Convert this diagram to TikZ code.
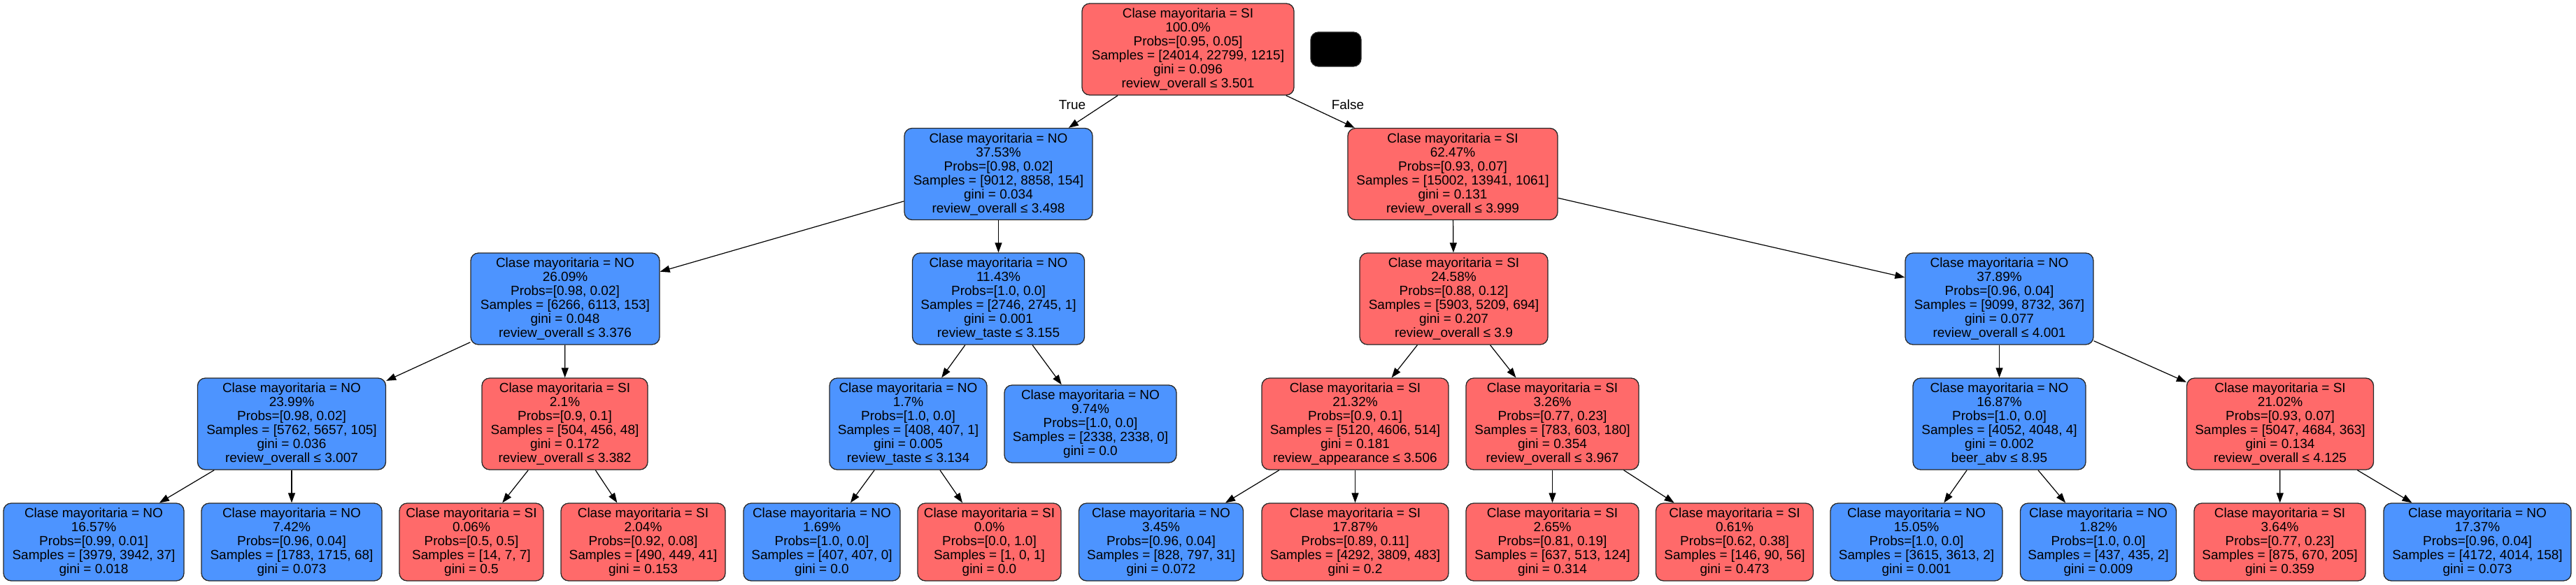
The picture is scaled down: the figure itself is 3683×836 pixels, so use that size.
\documentclass[tikz,border=0pt]{standalone}
\usepackage{fontspec}
\setmainfont{Liberation Sans}
\usetikzlibrary{arrows.meta}
\definecolor{nored}{HTML}{FF6A6A}
\definecolor{noblue}{HTML}{4D94FF}
\tikzset{
  tnode/.style={draw=black!85, line width=1.3pt, rounded corners=11pt, inner sep=0pt,
    align=center, font=\fontsize{19}{20}\selectfont, minimum height=131pt},
  leafh/.style={minimum height=111pt},
  rednode/.style={tnode, fill=nored},
  bluenode/.style={tnode, fill=noblue},
  treeedge/.style={line width=1.2pt, draw=black, -{Triangle[length=14pt,width=10pt]}},
  elabel/.style={font=\fontsize{19}{20}\selectfont, inner sep=0pt}
}
\begin{document}
\begin{tikzpicture}[x=1pt,y=1pt]
\useasboundingbox (0,0) rectangle (3683,-836);
% level 0
\node[rednode, minimum width=303pt] (root) at (1698.5,-70.5) {Clase mayoritaria = SI\\100.0\%\\Probs=[0.95, 0.05]\\Samples = [24014, 22799, 1215]\\gini = 0.096\\review\_overall ≤ 3.501};
\node[draw=black!85, line width=1.3pt, fill=black, rounded corners=11pt, minimum width=72pt, minimum height=49pt, inner sep=0pt] (legend) at (1910,-70.5) {};
% level 1
\node[bluenode, minimum width=269pt] (n1) at (1427.5,-249) {Clase mayoritaria = NO\\37.53\%\\Probs=[0.98, 0.02]\\Samples = [9012, 8858, 154]\\gini = 0.034\\review\_overall ≤ 3.498};
\node[rednode, minimum width=300pt] (n2) at (2077,-249) {Clase mayoritaria = SI\\62.47\%\\Probs=[0.93, 0.07]\\Samples = [15002, 13941, 1061]\\gini = 0.131\\review\_overall ≤ 3.999};
% level 2
\node[bluenode, minimum width=270pt] (n3) at (808,-427.5) {Clase mayoritaria = NO\\26.09\%\\Probs=[0.98, 0.02]\\Samples = [6266, 6113, 153]\\gini = 0.048\\review\_overall ≤ 3.376};
\node[bluenode, minimum width=246pt] (n4) at (1427.5,-427.5) {Clase mayoritaria = NO\\11.43\%\\Probs=[1.0, 0.0]\\Samples = [2746, 2745, 1]\\gini = 0.001\\review\_taste ≤ 3.155};
\node[rednode, minimum width=269pt] (n5) at (2078.5,-427.5) {Clase mayoritaria = SI\\24.58\%\\Probs=[0.88, 0.12]\\Samples = [5903, 5209, 694]\\gini = 0.207\\review\_overall ≤ 3.9};
\node[bluenode, minimum width=269pt] (n6) at (2858.5,-427.5) {Clase mayoritaria = NO\\37.89\%\\Probs=[0.96, 0.04]\\Samples = [9099, 8732, 367]\\gini = 0.077\\review\_overall ≤ 4.001};
% level 3
\node[bluenode, minimum width=269pt] (n7) at (417,-606.5) {Clase mayoritaria = NO\\23.99\%\\Probs=[0.98, 0.02]\\Samples = [5762, 5657, 105]\\gini = 0.036\\review\_overall ≤ 3.007};
\node[rednode, minimum width=237pt] (n8) at (807.5,-606.5) {Clase mayoritaria = SI\\2.1\%\\Probs=[0.9, 0.1]\\Samples = [504, 456, 48]\\gini = 0.172\\review\_overall ≤ 3.382};
\node[bluenode, minimum width=225pt] (n9) at (1298.5,-606.5) {Clase mayoritaria = NO\\1.7\%\\Probs=[1.0, 0.0]\\Samples = [408, 407, 1]\\gini = 0.005\\review\_taste ≤ 3.134};
\node[bluenode, leafh, minimum width=246pt] (n10) at (1559,-606.5) {Clase mayoritaria = NO\\9.74\%\\Probs=[1.0, 0.0]\\Samples = [2338, 2338, 0]\\gini = 0.0};
\node[rednode, minimum width=267pt] (n11) at (1937.5,-606.5) {Clase mayoritaria = SI\\21.32\%\\Probs=[0.9, 0.1]\\Samples = [5120, 4606, 514]\\gini = 0.181\\review\_appearance ≤ 3.506};
\node[rednode, minimum width=247pt] (n12) at (2219.5,-606.5) {Clase mayoritaria = SI\\3.26\%\\Probs=[0.77, 0.23]\\Samples = [783, 603, 180]\\gini = 0.354\\review\_overall ≤ 3.967};
\node[bluenode, minimum width=247pt] (n13) at (2858.5,-606.5) {Clase mayoritaria = NO\\16.87\%\\Probs=[1.0, 0.0]\\Samples = [4052, 4048, 4]\\gini = 0.002\\beer\_abv ≤ 8.95};
\node[rednode, minimum width=267pt] (n14) at (3260,-606.5) {Clase mayoritaria = SI\\21.02\%\\Probs=[0.93, 0.07]\\Samples = [5047, 4684, 363]\\gini = 0.134\\review\_overall ≤ 4.125};
% level 4 (leaves)
\node[bluenode, leafh, minimum width=258pt] (n15) at (134,-775.5) {Clase mayoritaria = NO\\16.57\%\\Probs=[0.99, 0.01]\\Samples = [3979, 3942, 37]\\gini = 0.018};
\node[bluenode, leafh, minimum width=258pt] (n16) at (417,-775.5) {Clase mayoritaria = NO\\7.42\%\\Probs=[0.96, 0.04]\\Samples = [1783, 1715, 68]\\gini = 0.073};
\node[rednode, leafh, minimum width=206pt] (n17) at (674,-775.5) {Clase mayoritaria = SI\\0.06\%\\Probs=[0.5, 0.5]\\Samples = [14, 7, 7]\\gini = 0.5};
\node[rednode, leafh, minimum width=235pt] (n18) at (919.5,-775.5) {Clase mayoritaria = SI\\2.04\%\\Probs=[0.92, 0.08]\\Samples = [490, 449, 41]\\gini = 0.153};
\node[bluenode, leafh, minimum width=224pt] (n19) at (1175,-775.5) {Clase mayoritaria = NO\\1.69\%\\Probs=[1.0, 0.0]\\Samples = [407, 407, 0]\\gini = 0.0};
\node[rednode, leafh, minimum width=205pt] (n20) at (1414.5,-775.5) {Clase mayoritaria = SI\\0.0\%\\Probs=[0.0, 1.0]\\Samples = [1, 0, 1]\\gini = 0.0};
\node[bluenode, leafh, minimum width=235pt] (n21) at (1660,-775.5) {Clase mayoritaria = NO\\3.45\%\\Probs=[0.96, 0.04]\\Samples = [828, 797, 31]\\gini = 0.072};
\node[rednode, leafh, minimum width=267pt] (n22) at (1937.5,-775.5) {Clase mayoritaria = SI\\17.87\%\\Probs=[0.89, 0.11]\\Samples = [4292, 3809, 483]\\gini = 0.2};
\node[rednode, leafh, minimum width=247pt] (n23) at (2219.5,-775.5) {Clase mayoritaria = SI\\2.65\%\\Probs=[0.81, 0.19]\\Samples = [637, 513, 124]\\gini = 0.314};
\node[rednode, leafh, minimum width=225pt] (n24) at (2480,-775.5) {Clase mayoritaria = SI\\0.61\%\\Probs=[0.62, 0.38]\\Samples = [146, 90, 56]\\gini = 0.473};
\node[bluenode, leafh, minimum width=246pt] (n25) at (2740,-775.5) {Clase mayoritaria = NO\\15.05\%\\Probs=[1.0, 0.0]\\Samples = [3615, 3613, 2]\\gini = 0.001};
\node[bluenode, leafh, minimum width=223pt] (n26) at (3000,-775.5) {Clase mayoritaria = NO\\1.82\%\\Probs=[1.0, 0.0]\\Samples = [437, 435, 2]\\gini = 0.009};
\node[rednode, leafh, minimum width=245pt] (n27) at (3259.5,-775.5) {Clase mayoritaria = SI\\3.64\%\\Probs=[0.77, 0.23]\\Samples = [875, 670, 205]\\gini = 0.359};
\node[bluenode, leafh, minimum width=268pt] (n28) at (3542,-775.5) {Clase mayoritaria = NO\\17.37\%\\Probs=[0.96, 0.04]\\Samples = [4172, 4014, 158]\\gini = 0.073};
% edge labels
\node[elabel] (ltrue) at (1533,-150) {True};
\node[elabel] (lfalse) at (1927,-150) {False};
% edges
\draw[treeedge] (root) -- (n1);
\draw[treeedge] (root) -- (n2);
\draw[treeedge] (n1) -- (n3);
\draw[treeedge] (n1) -- (n4);
\draw[treeedge] (n2) -- (n5);
\draw[treeedge] (n2) -- (n6);
\draw[treeedge] (n3) -- (n7);
\draw[treeedge] (n3) -- (n8);
\draw[treeedge] (n4) -- (n9);
\draw[treeedge] (n4) -- (n10);
\draw[treeedge] (n5) -- (n11);
\draw[treeedge] (n5) -- (n12);
\draw[treeedge] (n6) -- (n13);
\draw[treeedge] (n6) -- (n14);
\draw[treeedge] (n7) -- (n15);
\draw[treeedge] (n7) -- (n16);
\draw[treeedge] (n8) -- (n17);
\draw[treeedge] (n8) -- (n18);
\draw[treeedge] (n9) -- (n19);
\draw[treeedge] (n9) -- (n20);
\draw[treeedge] (n11) -- (n21);
\draw[treeedge] (n11) -- (n22);
\draw[treeedge] (n12) -- (n23);
\draw[treeedge] (n12) -- (n24);
\draw[treeedge] (n13) -- (n25);
\draw[treeedge] (n13) -- (n26);
\draw[treeedge] (n14) -- (n27);
\draw[treeedge] (n14) -- (n28);
\end{tikzpicture}
\end{document}
